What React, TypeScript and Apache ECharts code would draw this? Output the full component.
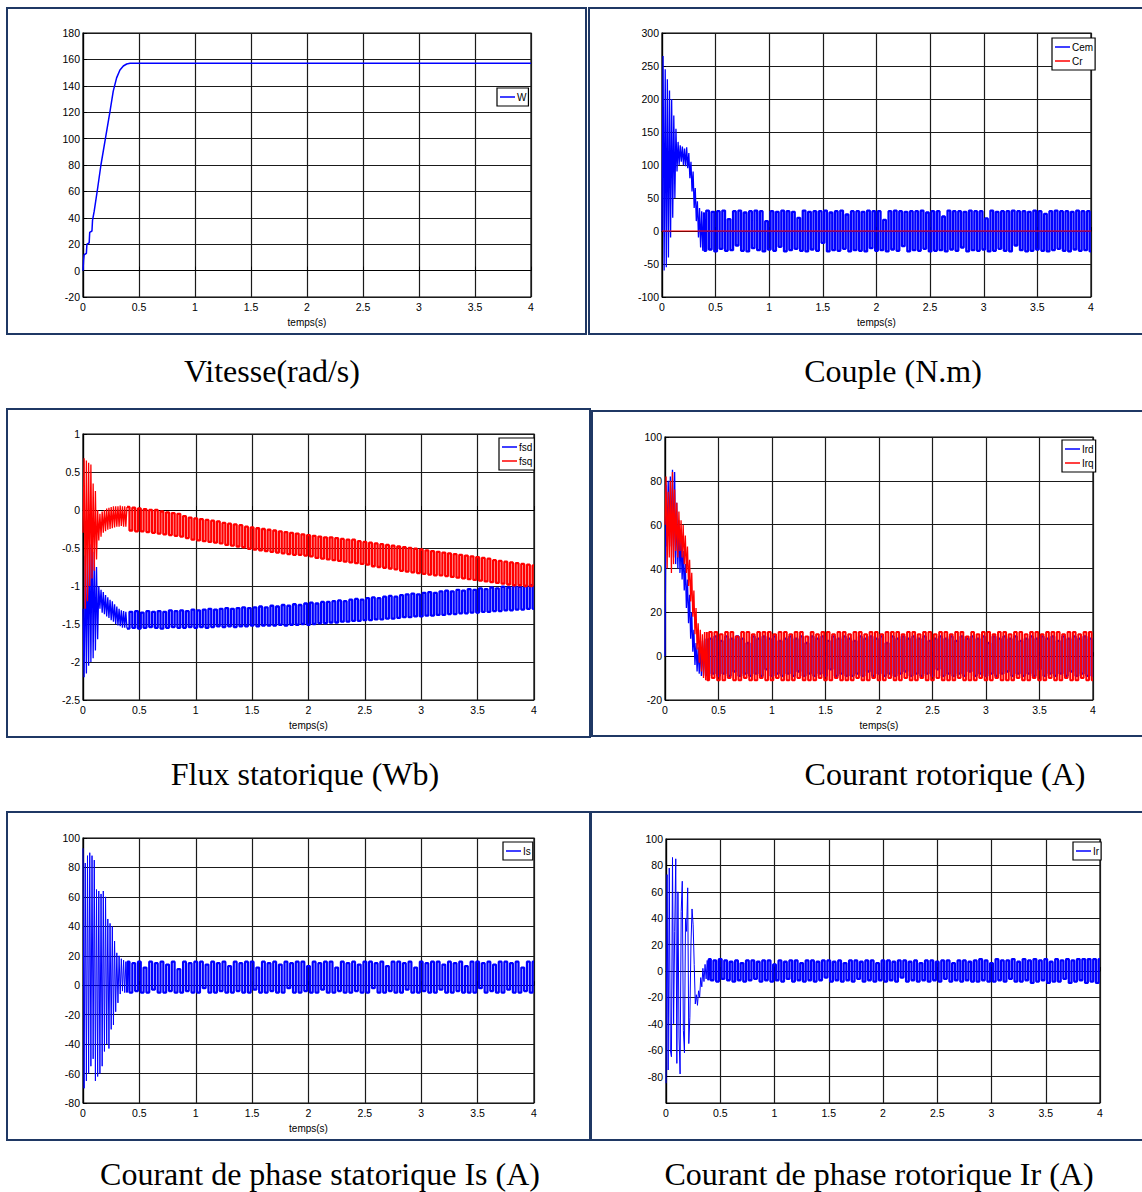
import React, { useEffect, useRef } from "react";
import * as echarts from "echarts";

// ---------------- DATA ----------------
// Time base of the oscillating signals: transient part sampled every 0.01 s (t = 0 .. 0.39),
// steady part sampled every 0.025 s (t = 0.4 .. 4).
const TRANS_DT = 0.01;
const STEADY_T0 = 0.4;
const STEADY_DT = 0.025;

const xTicks = [0, 0.5, 1, 1.5, 2, 2.5, 3, 3.5, 4];

// Vitesse W (rad/s)
const speedTime = [0, 0.005, 0.01, 0.03, 0.035, 0.055, 0.06, 0.08, 0.085, 0.1, 0.13, 0.16, 0.2, 0.24, 0.27, 0.3, 0.33, 0.36, 0.39, 0.42, 0.46, 0.5, 1, 2, 3, 4];
const speedW = [0, 8, 12, 13, 20, 21, 29, 30, 38, 45, 62, 80, 100, 120, 136, 146, 152, 155, 156.5, 157, 157, 157, 157, 157, 157, 157];

// Couple Cem (N.m)
const cemTransient = [0, 265, -60, 245, -55, 230, -40, 213, -10, 200, 20, 175, 50, 155, 90, 135, 100, 130, 105, 128, 100, 125, 98, 127, 95, 118, 80, 105, 60, 90, 35, 65, 15, 45, -10, 35, -25, 30, -30, 28];
const cemSteady = [
  -30, 31, -28, 29, -31, 30, -27, 31, -30, 18, -29, 30, -22, 31, -30, 28, -31, 30, -26, 31,
  -29, 30, -31, 15, -28, 30, -30, 29, -24, 31, -31, 30, -29, 29, -27, 20, -30, 31, -31, 29,
  -28, 30, -30, 30, -18, 31, -31, 28, -29, 30, -30, 31, -27, 25, -31, 30, -29, 30, -30, 29,
  -31, 31, -26, 30, -30, 30, -29, 17, -31, 30, -28, 31, -30, 30, -23, 29, -31, 30, -29, 30,
  -30, 31, -27, 28, -31, 30, -30, 30, -29, 22, -31, 31, -28, 30, -30, 30, -25, 29, -31, 31,
  -29, 30, -30, 30, -28, 19, -31, 31, -30, 29, -27, 30, -30, 30, -31, 31, -22, 30, -29, 30,
  -31, 29, -30, 31, -28, 30, -30, 26, -31, 30, -29, 31, -27, 30, -30, 30, -31, 29, -28, 31,
  -30, 30, -29, 30, -31,
];
// Couple résistant Cr
const crTime = [0, 4];
const crValue = [0, 0];

// Flux statorique fsd / fsq (Wb)
const fsdTransient = [-1.3, -2.2, -0.6, -2.15, -0.5, -2.05, -0.45, -2.0, -0.35, -1.95, -0.55, -1.85, -0.75, -1.7, -1.0, -1.3, -1.05, -1.35, -1.08, -1.37, -1.12, -1.4, -1.15, -1.42, -1.18, -1.45, -1.2, -1.47, -1.24, -1.5, -1.27, -1.52, -1.3, -1.53, -1.32, -1.55, -1.33, -1.55, -1.34, -1.56];
const fsdSteady = [
  -1.56, -1.34, -1.55, -1.33, -1.56, -1.35, -1.55, -1.33, -1.54, -1.34,
  -1.55, -1.33, -1.56, -1.34, -1.55, -1.32, -1.54, -1.33, -1.55, -1.32,
  -1.55, -1.33, -1.54, -1.31, -1.55, -1.32, -1.54, -1.31, -1.55, -1.3,
  -1.54, -1.31, -1.53, -1.3, -1.54, -1.29, -1.53, -1.3, -1.54, -1.29,
  -1.53, -1.28, -1.53, -1.29, -1.52, -1.28, -1.53, -1.27, -1.52, -1.28,
  -1.52, -1.26, -1.52, -1.27, -1.51, -1.25, -1.52, -1.26, -1.51, -1.24,
  -1.51, -1.25, -1.5, -1.23, -1.51, -1.22, -1.5, -1.23, -1.49, -1.21,
  -1.49, -1.21, -1.48, -1.2, -1.48, -1.19, -1.47, -1.2, -1.47, -1.18,
  -1.46, -1.17, -1.46, -1.18, -1.45, -1.16, -1.45, -1.15, -1.44, -1.16,
  -1.44, -1.14, -1.43, -1.13, -1.43, -1.14, -1.42, -1.12, -1.41, -1.11,
  -1.41, -1.1, -1.4, -1.11, -1.4, -1.09, -1.39, -1.08, -1.39, -1.09,
  -1.38, -1.07, -1.38, -1.06, -1.37, -1.07, -1.37, -1.05, -1.36, -1.06,
  -1.36, -1.04, -1.35, -1.05, -1.35, -1.03, -1.34, -1.04, -1.34, -1.02,
  -1.33, -1.03, -1.33, -1.01, -1.32, -1.02, -1.32, -1.0, -1.31, -1.01,
  -1.31, -1.0, -1.3, -0.99, -1.3,
];
const fsqTransient = [-0.3, 0.68, -1.3, 0.65, -1.2, 0.62, -1.0, 0.6, -0.9, 0.35, -0.8, 0.25, -0.65, 0.0, -0.4, -0.05, -0.35, -0.02, -0.3, 0.0, -0.28, 0.02, -0.26, 0.03, -0.25, 0.04, -0.24, 0.05, -0.23, 0.05, -0.22, 0.05, -0.22, 0.06, -0.21, 0.05, -0.22, 0.05, -0.22, 0.04];
const fsqSteady = [
  0.04, -0.27, 0.03, -0.28, 0.02, -0.28, 0.01, -0.29, 0.0, -0.3,
  0.0, -0.31, -0.02, -0.32, -0.03, -0.33, -0.04, -0.34, -0.05, -0.35,
  -0.08, -0.37, -0.1, -0.39, -0.11, -0.4, -0.12, -0.41, -0.13, -0.42,
  -0.14, -0.43, -0.15, -0.44, -0.17, -0.46, -0.18, -0.47, -0.19, -0.48,
  -0.2, -0.49, -0.22, -0.51, -0.23, -0.52, -0.24, -0.53, -0.25, -0.54,
  -0.26, -0.55, -0.27, -0.56, -0.28, -0.57, -0.29, -0.58, -0.3, -0.59,
  -0.31, -0.59, -0.32, -0.6, -0.33, -0.61, -0.34, -0.63, -0.35, -0.64,
  -0.36, -0.65, -0.36, -0.66, -0.37, -0.67, -0.38, -0.68, -0.39, -0.69,
  -0.39, -0.7, -0.41, -0.71, -0.42, -0.72, -0.43, -0.74, -0.44, -0.75,
  -0.45, -0.76, -0.46, -0.77, -0.47, -0.78, -0.48, -0.8, -0.49, -0.81,
  -0.5, -0.82, -0.51, -0.83, -0.52, -0.84, -0.53, -0.85, -0.54, -0.86,
  -0.55, -0.86, -0.56, -0.87, -0.57, -0.88, -0.58, -0.89, -0.59, -0.9,
  -0.6, -0.91, -0.61, -0.92, -0.62, -0.93, -0.63, -0.94, -0.64, -0.95,
  -0.66, -0.96, -0.67, -0.97, -0.68, -0.98, -0.69, -0.99, -0.7, -0.99,
  -0.71, -1.0, -0.72, -1.0, -0.73,
];

// Courant rotorique Ird / Irq (A)
const irdTransient = [0, 78, 50, 80, 55, 82, 50, 85, 45, 84, 42, 70, 40, 62, 38, 55, 35, 48, 30, 42, 22, 35, 15, 28, 8, 20, 2, 12, -4, 6, -7, 4, -8, 5, -9, 7, -9, 8, -9, 8];
const irdSteady = [
  -9, 8, -8, 9, -9, 7, -8, 9, -9, 8, -7, 9, -9, 8, -8, 6, -9, 9, -8, 8,
  -9, 9, -6, 8, -9, 9, -8, 7, -9, 8, -8, 9, -9, 8, -7, 9, -9, 6, -8, 9,
  -9, 8, -8, 9, -9, 7, -6, 9, -9, 8, -8, 9, -9, 8, -9, 7, -8, 9, -9, 8,
  -7, 9, -9, 8, -8, 9, -9, 6, -8, 9, -9, 8, -8, 9, -7, 8, -9, 9, -8, 8,
  -9, 9, -8, 7, -9, 8, -6, 9, -9, 8, -8, 9, -9, 7, -8, 9, -9, 8, -7, 9,
  -9, 8, -8, 9, -9, 6, -8, 9, -9, 8, -8, 9, -7, 8, -9, 9, -8, 7, -9, 8,
  -8, 9, -9, 8, -6, 9, -9, 8, -8, 9, -9, 7, -8, 9, -9, 8, -7, 9, -9, 8,
  -8, 9, -9, 8, -9,
];
const irqTransient = [60, 82, 40, 75, 45, 80, 38, 84, 42, 76, 48, 70, 45, 66, 48, 62, 45, 60, 42, 55, 38, 50, 32, 44, 25, 38, 18, 30, 10, 22, 3, 15, -3, 12, -7, 10, -10, 11, -11, 11];
const irqSteady = [
  -11, 11, -10, 11, -11, 10, -11, 11, -10, 11, -11, 9, -11, 11, -10, 11, -11, 10, -11, 11,
  -10, 11, -11, 11, -11, 10, -10, 11, -11, 11, -11, 10, -11, 11, -10, 11, -11, 9, -11, 11,
  -11, 10, -10, 11, -11, 11, -11, 10, -10, 11, -11, 11, -11, 10, -11, 11, -10, 11, -11, 10,
  -11, 11, -10, 11, -11, 10, -11, 11, -10, 11, -11, 11, -11, 10, -10, 11, -11, 11, -11, 10,
  -10, 11, -11, 11, -11, 10, -10, 11, -11, 11, -11, 10, -11, 11, -10, 11, -11, 9, -11, 11,
  -11, 10, -10, 11, -11, 11, -11, 10, -10, 11, -11, 11, -11, 10, -11, 11, -10, 11, -11, 10,
  -11, 11, -10, 11, -11, 10, -11, 11, -10, 11, -11, 11, -11, 10, -10, 11, -11, 11, -11, 10,
  -10, 11, -11, 11, -11,
];

// Courant de phase statorique Is (A)
const isTransient = [93, -70, 83, -65, 88, -60, 90, -55, 88, -50, 85, -65, 65, -62, 64, -60, 62, -55, 64, -45, 60, -40, 45, -43, 42, -30, 40, -27, 30, -18, 22, -12, 20, -6, 18, -4, 17, -5, 16, -5];
const isSteady = [
  16, -5, 15, -4, 16, -5, 12, -5, 16, -3, 15, -5, 16, -5, 14, -4, 16, -5, 11, -5,
  16, -4, 15, -5, 16, -5, 16, -2, 14, -5, 16, -5, 15, -4, 16, -5, 13, -5, 16, -4,
  15, -5, 16, -5, 16, -3, 12, -5, 16, -5, 15, -4, 16, -5, 14, -5, 16, -2, 15, -5,
  16, -5, 16, -4, 13, -5, 16, -5, 15, -3, 16, -5, 16, -5, 12, -4, 16, -5, 15, -5,
  16, -4, 14, -5, 16, -5, 16, -2, 15, -5, 16, -5, 13, -4, 16, -5, 16, -5, 15, -3,
  16, -5, 12, -5, 16, -4, 15, -5, 16, -5, 16, -3, 14, -5, 16, -5, 15, -4, 16, -5,
  13, -5, 16, -5, 16, -2, 15, -5, 16, -4, 14, -5, 16, -5, 16, -3, 15, -5, 16, -5,
  12, -4, 16, -5, 16,
];

// Courant de phase rotorique Ir (A)
const irTransient = [-85, 73, -75, 78, -60, -65, 86, -40, 30, 85, -70, 60, -50, -78, 45, 68, -45, -62, 40, 30, 63, -55, -35, 20, 47, 35, 5, -25, -18, -26, -15, -20, -5, -12, 2, -8, 5, -6, 8, -7];
const irSteady = [
  9, -7, 8, -8, 9, -6, 8, -7, 7, -8, 8, -7, 6, -8, 8, -7, 8, -6, 7, -8,
  8, -7, 8, -8, 5, -7, 8, -8, 7, -6, 8, -8, 8, -7, 6, -8, 8, -7, 8, -8,
  7, -7, 8, -5, 8, -8, 7, -7, 8, -8, 6, -7, 8, -8, 8, -6, 7, -8, 8, -7,
  8, -8, 6, -7, 8, -8, 8, -7, 7, -8, 8, -5, 8, -8, 7, -7, 8, -8, 6, -7,
  8, -8, 8, -7, 7, -8, 8, -6, 8, -8, 6, -7, 8, -8, 8, -7, 7, -8, 8, -8,
  9, -7, 8, -8, 6, -8, 9, -7, 8, -8, 8, -6, 9, -8, 7, -8, 9, -7, 8, -9,
  9, -8, 8, -7, 9, -9, 7, -8, 9, -8, 8, -6, 9, -9, 8, -8, 9, -7, 9, -9,
  9, -8, 9, -9, 9,
];

// ---------------- helpers ----------------
type Pt = [number, number];
function transientPts(transient: number[]): Pt[] {
  return transient.map((v, i) => [+(i * TRANS_DT).toFixed(4), v] as Pt);
}
function steadyPts(transient: number[], steady: number[]): Pt[] {
  // starts at the last transient sample so the two parts join
  const last = transient.length - 1;
  const out: Pt[] = [[+(last * TRANS_DT).toFixed(4), transient[last]]];
  steady.forEach((v, k) => out.push([+(STEADY_T0 + k * STEADY_DT).toFixed(4), v]));
  return out;
}
function pairs(t: number[], v: number[]): Pt[] {
  return t.map((x, i) => [x, v[i]] as Pt);
}

const BLUE = "#0000ff";
const RED = "#ff0000";
const FRAME = "#1f3864";
const SANS = '"Liberation Sans", Arial, sans-serif';
const SERIF = '"Liberation Serif", "Times New Roman", serif';

type SeriesDef = { name: string; color: string; width: number; step?: boolean; data: Pt[] };
type Panel = {
  grid: { left: number; top: number; width: number; height: number };
  y: { min: number; max: number; interval: number; hide?: number };
  showName: boolean;
  frame: [number, number, number, number];
  caption: string;
  cap: [number, number];
  legend: { left: number; top: number };
  legendNames: string[];
  series: SeriesDef[];
};

function osc(name: string, color: string, tr: number[], st: number[], wTr: number, wSt: number): SeriesDef[] {
  return [
    { name, color, width: wTr, data: transientPts(tr) },
    { name, color, width: wSt, step: true, data: steadyPts(tr, st) },
  ];
}

const panels: Panel[] = [
  {
    grid: { left: 83, top: 33, width: 448, height: 264 },
    y: { min: -20, max: 180, interval: 20 },
    showName: true,
    frame: [7, 8, 579, 326],
    caption: "Vitesse(rad/s)",
    cap: [272, 371],
    legend: { left: 497, top: 88 },
    legendNames: ["W"],
    series: [{ name: "W", color: BLUE, width: 1.5, data: pairs(speedTime, speedW) }],
  },
  {
    grid: { left: 662, top: 33, width: 429, height: 264 },
    y: { min: -100, max: 300, interval: 50 },
    showName: true,
    frame: [589, 8, 570, 326],
    caption: "Couple (N.m)",
    cap: [893, 371],
    legend: { left: 1052, top: 38 },
    legendNames: ["Cem", "Cr"],
    series: [
      ...osc("Cem", BLUE, cemTransient, cemSteady, 1.3, 2.3),
      { name: "Cr", color: RED, width: 1.2, data: pairs(crTime, crValue) },
    ],
  },
  {
    grid: { left: 83, top: 434, width: 451, height: 266 },
    y: { min: -2.5, max: 1, interval: 0.5 },
    showName: true,
    frame: [7, 409, 583, 328],
    caption: "Flux statorique (Wb)",
    cap: [305, 774],
    legend: { left: 499, top: 438 },
    legendNames: ["fsd", "fsq"],
    series: [
      ...osc("fsd", BLUE, fsdTransient, fsdSteady, 1.3, 2.3),
      ...osc("fsq", RED, fsqTransient, fsqSteady, 1.3, 2.3),
    ],
  },
  {
    grid: { left: 665, top: 437, width: 428, height: 263 },
    y: { min: -20, max: 100, interval: 20 },
    showName: true,
    frame: [592, 411, 570, 325],
    caption: "Courant rotorique (A)",
    cap: [945, 774],
    legend: { left: 1062, top: 440 },
    legendNames: ["Ird", "Irq"],
    series: [
      ...osc("Ird", BLUE, irdTransient, irdSteady, 1.3, 2.3),
      ...osc("Irq", RED, irqTransient, irqSteady, 1.3, 2.0),
    ],
  },
  {
    grid: { left: 83, top: 838, width: 451, height: 265 },
    y: { min: -80, max: 100, interval: 20 },
    showName: true,
    frame: [7, 812, 583, 328],
    caption: "Courant de phase statorique Is (A)",
    cap: [320, 1174],
    legend: { left: 503, top: 842 },
    legendNames: ["Is"],
    series: osc("Is", BLUE, isTransient, isSteady, 1, 2.2),
  },
  {
    grid: { left: 666, top: 839, width: 434, height: 264 },
    y: { min: -100, max: 100, interval: 20, hide: -100 },
    showName: false,
    frame: [591, 812, 570, 328],
    caption: "Courant de phase rotorique Ir (A)",
    cap: [879, 1174],
    legend: { left: 1073, top: 842 },
    legendNames: ["Ir"],
    series: osc("Ir", BLUE, irTransient, irSteady, 1, 2.3),
  },
];

function buildOption() {
  const gridLine = { show: true, lineStyle: { color: "#1a1a1a", width: 1.2 } };
  const axisLine = { show: true, lineStyle: { color: "#000", width: 1.2 } };
  const axisTick = { show: true, inside: true, length: 4, lineStyle: { color: "#000" } };
  const label = { color: "#000", fontSize: 10.5, fontFamily: SANS };

  const grid = panels.map((p) => ({
    ...p.grid,
    show: true,
    borderColor: "#000",
    borderWidth: 1.2,
    containLabel: false,
  }));
  const xAxis = panels.map((p, i) => ({
    type: "value",
    gridIndex: i,
    min: xTicks[0],
    max: xTicks[xTicks.length - 1],
    interval: xTicks[1] - xTicks[0],
    axisLine,
    axisTick,
    splitLine: gridLine,
    axisLabel: { ...label, margin: 4 },
    name: p.showName ? "temps(s)" : "",
    nameLocation: "middle",
    nameGap: 20,
    nameTextStyle: { color: "#000", fontSize: 10, fontFamily: SANS },
  }));
  const yAxis = panels.map((p, i) => ({
    type: "value",
    gridIndex: i,
    min: p.y.min,
    max: p.y.max,
    interval: p.y.interval,
    axisLine,
    axisTick,
    splitLine: gridLine,
    axisLabel: {
      ...label,
      margin: 3,
      formatter: (v: number) => (p.y.hide !== undefined && v === p.y.hide ? "" : String(v)),
    },
  }));
  const series: any[] = [];
  panels.forEach((p, i) => {
    p.series.forEach((s) => {
      series.push({
        type: "line",
        name: s.name,
        xAxisIndex: i,
        yAxisIndex: i,
        data: s.data,
        step: s.step ? "middle" : false,
        showSymbol: false,
        symbol: "none",
        silent: true,
        lineStyle: { color: s.color, width: s.width },
        itemStyle: { color: s.color },
      });
    });
  });
  const legend = panels.map((p) => ({
    data: p.legendNames,
    left: p.legend.left,
    top: p.legend.top,
    orient: "vertical",
    icon: "rect",
    itemWidth: 15,
    itemHeight: 1.5,
    itemGap: 4,
    padding: [4, 2, 4, 3],
    borderColor: "#000",
    borderWidth: 1.2,
    backgroundColor: "#fff",
    selectedMode: false,
    textStyle: { color: "#000", fontSize: 10, fontFamily: SANS, padding: [0, 0, 0, -3] },
  }));
  const graphic: any[] = [];
  panels.forEach((p) => {
    graphic.push({
      type: "rect",
      shape: { x: p.frame[0], y: p.frame[1], width: p.frame[2], height: p.frame[3] },
      style: { fill: "none", stroke: FRAME, lineWidth: 2 },
      silent: true,
    });
    graphic.push({
      type: "text",
      x: p.cap[0],
      y: p.cap[1],
      style: {
        text: p.caption,
        fill: "#000",
        font: `32px ${SERIF}`,
        textAlign: "center",
        textVerticalAlign: "middle",
      },
      silent: true,
    });
  });
  return {
    animation: false,
    backgroundColor: "#fff",
    grid,
    xAxis,
    yAxis,
    series,
    legend,
    graphic,
  };
}

export default function App() {
  const ref = useRef<HTMLDivElement>(null);
  useEffect(() => {
    if (!ref.current) return;
    const chart = echarts.init(ref.current, undefined, { renderer: "svg" });
    chart.setOption(buildOption() as any);
    return () => chart.dispose();
  }, []);
  return (
    <div
      ref={ref}
      style={{ position: "absolute", left: 0, top: 0, width: 1142, height: 1192, background: "#fff" }}
    />
  );
}
